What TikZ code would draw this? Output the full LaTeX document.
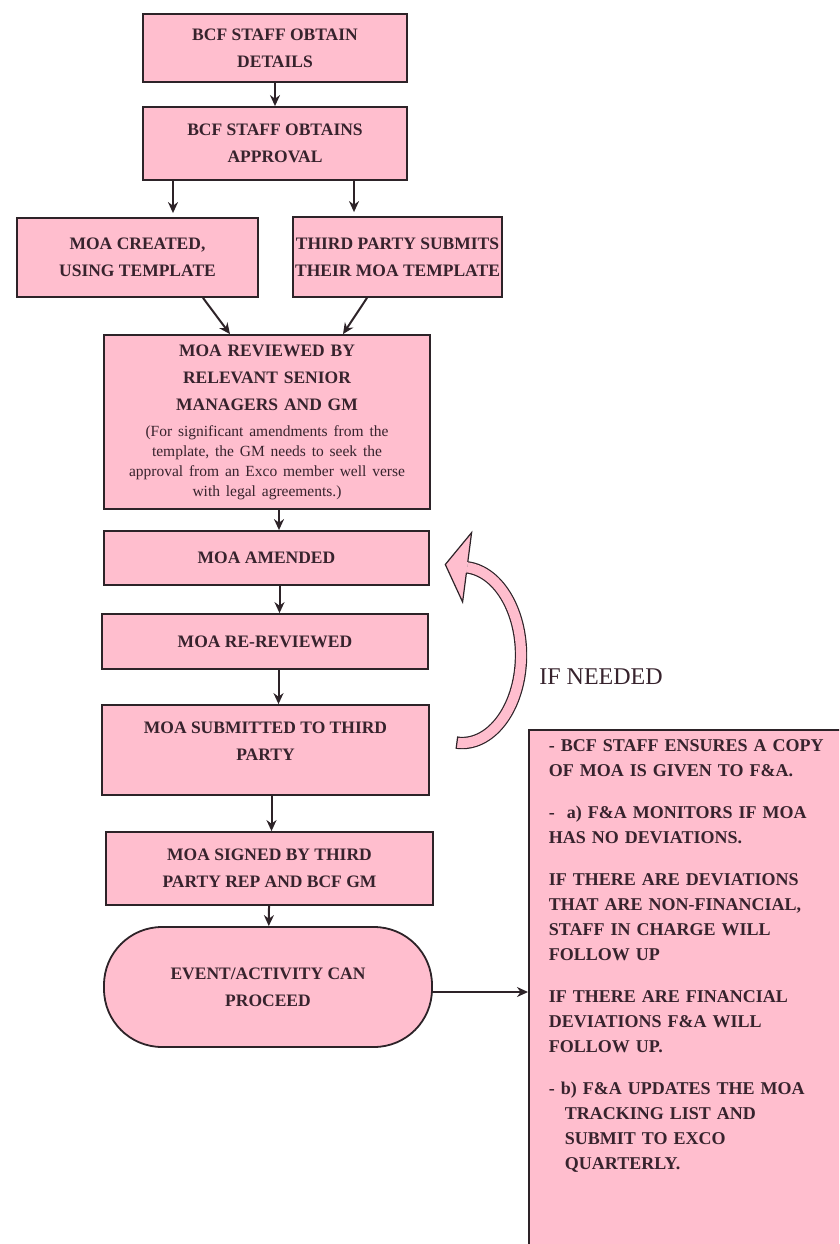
\documentclass[tikz,border=0pt]{standalone}
\usepackage{fontspec}
\setmainfont{Liberation Serif}
\usetikzlibrary{positioning, arrows.meta}

\definecolor{boxpink}{RGB}{255,190,206}
\definecolor{boxline}{RGB}{45,35,40}
\definecolor{inkdark}{RGB}{55,35,45}

\begin{document}
\begin{tikzpicture}[>={Stealth[length=11pt, width=10pt]}, x=1pt, y=-1pt,
    stepbox/.style={draw=boxline, line width=1.8pt, fill=boxpink, text=inkdark,
        align=center, inner sep=2pt, font=\bfseries\fontsize{17.5}{27}\selectfont},
    flow/.style={->, draw=boxline, line width=2pt}]

    \clip (0,0) rectangle (839,1244);

    \node[stepbox, minimum width=264, minimum height=68] (obtain) at (275,48) {BCF STAFF OBTAIN\\DETAILS};
    \node[stepbox, minimum width=264, minimum height=73] (approval) at (275,143.5) {BCF STAFF OBTAINS\\APPROVAL};

    \node[stepbox, minimum width=241, minimum height=79] (created) at (137.5,257.5) {MOA CREATED,\\USING TEMPLATE};
    \node[stepbox, minimum width=205, minimum height=80] (thirdparty) at (397.5,257) {THIRD PARTY SUBMITS\\THEIR MOA TEMPLATE};

    \node[stepbox, minimum width=326, minimum height=174, text width=318] (reviewed) at (267,422)
        {MOA REVIEWED BY\\RELEVANT SENIOR\\MANAGERS AND GM\par\vspace{6pt}
         \mdseries\fontsize{15.5}{20}\selectfont (For significant amendments from the\\
         template, the GM needs to seek the\\approval from an Exco member well verse\\
         with legal agreements.)\par};

    \node[stepbox, minimum width=325, minimum height=54] (amended) at (266.5,558) {MOA AMENDED};
    \node[stepbox, minimum width=326, minimum height=55] (rereview) at (265,641.5) {MOA RE-REVIEWED};
    \node[stepbox, minimum width=327, minimum height=90] (submitted) at (265.5,750) {MOA SUBMITTED TO THIRD\\PARTY\\[-10pt]\mbox{}};
    \node[stepbox, minimum width=327, minimum height=73] (signed) at (269.5,868.5) {MOA SIGNED BY THIRD\\PARTY REP AND BCF GM};
    \node[stepbox, rounded corners=58, minimum width=328, minimum height=120] (event) at (268,987) {EVENT/ACTIVITY CAN\\PROCEED};

    \node[stepbox, anchor=north west, align=left, text width=300, minimum width=340,
        inner xsep=18, inner ysep=10, font=\bfseries\fontsize{18}{25}\selectfont] (notes) at (528,729)
        {- BCF STAFF ENSURES A COPY\\
         OF MOA IS GIVEN TO F\&A.\\[17pt]
         -\ \ a) F\&A MONITORS IF MOA\\
         HAS NO DEVIATIONS.\\[17pt]
         IF THERE ARE DEVIATIONS\\
         THAT ARE NON-FINANCIAL,\\
         STAFF IN CHARGE WILL\\
         FOLLOW UP\\[17pt]
         IF THERE ARE FINANCIAL\\
         DEVIATIONS F\&A WILL\\
         FOLLOW UP.\\[17pt]
         - b) F\&A UPDATES THE MOA\\
         \hspace*{16pt}TRACKING LIST AND\\
         \hspace*{16pt}SUBMIT TO EXCO\\
         \hspace*{16pt}QUARTERLY.\\[90pt]\mbox{}};

    \node[text=inkdark, font=\fontsize{24}{28}\selectfont] (ifneeded) at (601,677) {IF NEEDED};

    % Connections: steps down the page
    \draw[flow] (obtain) -- (approval);
    \draw[flow, shorten >=4pt] ([xshift=-102pt]approval.south) -- ([xshift=-102pt]approval.south |- created.north);
    \draw[flow, shorten >=4pt] ([xshift=79pt]approval.south) -- ([xshift=79pt]approval.south |- thirdparty.north);
    \draw[flow] ([xshift=65.5pt]created.south) -- ([xshift=-37pt]reviewed.north);
    \draw[flow] ([xshift=-30.5pt]thirdparty.south) -- ([xshift=76pt]reviewed.north);
    \draw[flow] ([xshift=12pt]reviewed.south) -- ([xshift=12pt]reviewed.south |- amended.north);
    \draw[flow] ([xshift=13pt]amended.south) -- ([xshift=13pt]amended.south |- rereview.north);
    \draw[flow] ([xshift=13.5pt]rereview.south) -- ([xshift=13.5pt]rereview.south |- submitted.north);
    \draw[flow] ([xshift=6pt]submitted.south) -- ([xshift=6pt]submitted.south |- signed.north);
    \draw[flow] (signed) -- (event);
    \draw[flow] ([yshift=-5pt]event.east) -- ([yshift=-5pt]event.east -| notes.west);

    % loop back arrow
    \draw[draw=boxline, line width=1.2pt, double=boxpink, double distance=10pt]
        (456.9,742.7) arc[start angle=95, end angle=-85, x radius=59, y radius=88];
    \draw[boxline, line width=1.2pt] (457.7,736.5) -- (456.1,748.9);
    \filldraw[fill=boxpink, draw=boxline, line width=1.2pt, line join=miter]
        (467.8,561.8) -- (471.6,532.6) -- (445.3,564.5) -- (462.6,602.0) -- (466.4,572.9);

\end{tikzpicture}
\end{document}
